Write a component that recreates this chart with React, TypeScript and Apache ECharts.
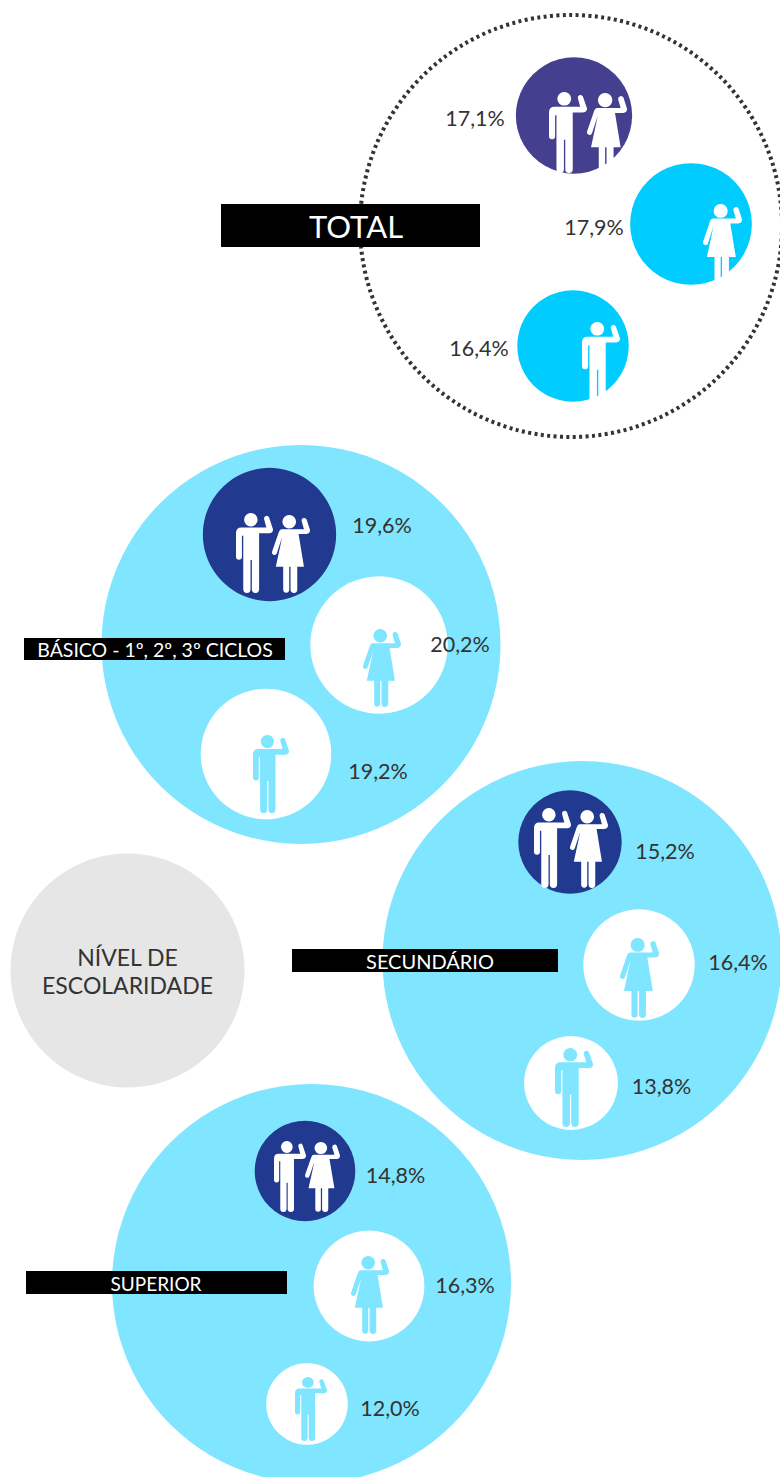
import React, { useEffect, useRef } from "react";
import * as echarts from "echarts";

// ---- Data ----
const groups = ["TOTAL", "BÁSICO - 1º, 2º, 3º CICLOS", "SECUNDÁRIO", "SUPERIOR"];
const audiences = ["Ambos", "Mulheres", "Homens"];
const totalValues = [17.1, 17.9, 16.4];
const basicoValues = [19.6, 20.2, 19.2];
const secundarioValues = [15.2, 16.4, 13.8];
const superiorValues = [14.8, 16.3, 12.0];
const allValues = [...totalValues, ...basicoValues, ...secundarioValues, ...superiorValues];
const centerTitle = "NÍVEL DE\nESCOLARIDADE";

// ---- Layout (positions are placed on hidden pixel axes) ----
const WIDTH = 780;
const HEIGHT = 1477;
const RADIUS_PER_POINT = 3.4;
const circleCentres = [
  [574, 115.5], [691, 224], [573, 346],
  [269.5, 534.5], [379, 645], [266, 754],
  [570, 842], [639, 965], [571, 1083],
  [305, 1171], [369, 1286], [307, 1404],
];
const valueLabelCentres = [
  [475, 118], [594, 227], [479, 348],
  [382, 525], [460, 644], [378, 771],
  [665, 851], [738, 962], [661.5, 1086],
  [395.5, 1175], [465, 1285], [390, 1408],
];
const backdrops = [
  { x: 301, y: 644.5, r: 199.5 },
  { x: 582, y: 960.5, r: 199.5 },
  { x: 311.5, y: 1283.5, r: 199.5 },
];
const banners = [
  { x: 221, y: 204, w: 259, h: 43, tx: 356, ty: 226, size: 31 },
  { x: 24, y: 638, w: 261, h: 22, tx: 155, ty: 649, size: 19.5 },
  { x: 292, y: 949, w: 266, h: 23, tx: 430, ty: 961, size: 20 },
  { x: 26, y: 1271, w: 261, h: 23, tx: 156, ty: 1283, size: 19 },
];
// [kind, left, top, right, bottom, group]
const icons: [string, number, number, number, number, number][] = [
  ["m", 549, 92, 587, 173, 0], ["w", 587, 93, 627, 175, 0],
  ["w", 703, 204, 742, 284, 0],
  ["m", 582, 322, 620, 403, 0],
  ["m", 236, 513, 273, 593, 1], ["w", 272, 515, 310, 593, 1],
  ["w", 363, 629, 401, 707, 2],
  ["m", 253, 735, 289, 813, 2],
  ["m", 534, 808, 571, 888, 1], ["w", 570, 810, 608, 888, 1],
  ["w", 620, 938, 659, 1018, 2],
  ["m", 555, 1048, 593, 1127, 2],
  ["m", 274, 1141, 306, 1212, 1], ["w", 305, 1142, 340, 1212, 1],
  ["w", 351, 1256, 389, 1334, 2],
  ["m", 295, 1377, 327, 1441, 2],
];

const FONT = "Lato, 'Open Sans', sans-serif";
const MAN =
  "path://M45,0A20,20 0 1 1 45,40A20,20 0 1 1 45,0Z" +
  "M16,43H92L85,18A8,8 0 0 1 100,13L112,48Q113,60 100,60H70V227A11,11 0 0 1 48,227V140H44V227A11,11 0 0 1 22,227V68H18V130A9,9 0 0 1 0,130V60Q0,43 16,43Z";
const WOMAN =
  "path://M51,0A20,20 0 1 1 51,40A20,20 0 1 1 51,0Z" +
  "M28,42H74Q80,42 84,42H95L88,18A8,8 0 0 1 103,13L113,44Q114,56 102,56H79L95,153H75V221A10,10 0 0 1 55,221V153H51V221A9,9 0 0 1 33,221V153H11L30,65L14,113A7,7 0 0 1 0,108L20,50Q23,42 28,42Z";

const NAVY = "#21398f";
const PURPLE = "#443f8e";
const CYAN = "#00ccff";
const LIGHT = "#80e5ff";

function circleColor(i: number) {
  if (i === 0) return PURPLE;
  if (i < 3) return CYAN;
  return (i - 3) % 3 === 0 ? NAVY : "#ffffff";
}
function iconColor(g: number) {
  return g === 2 ? LIGHT : "#ffffff";
}

const baseScatter = {
  type: "scatter" as const,
  coordinateSystem: "cartesian2d",
  clip: false,
  silent: true,
  itemStyle: { opacity: 1 },
};

export default function App() {
  const ref = useRef<HTMLDivElement>(null);
  useEffect(() => {
    const chart = echarts.init(ref.current!, undefined, { renderer: "svg" });
    chart.setOption({
      animation: false,
      backgroundColor: "#ffffff",
      grid: { left: 0, right: 0, top: 0, bottom: 0 },
      xAxis: { type: "value", min: 0, max: WIDTH, show: false },
      yAxis: { type: "value", min: 0, max: HEIGHT, inverse: true, show: false },
      series: [
        {
          ...baseScatter,
          name: "Anel",
          z: 1,
          data: [{
            value: [571, 226],
            symbolSize: 422,
            itemStyle: { opacity: 1, color: "transparent", borderColor: "#333333", borderWidth: 4, borderType: [3, 3.4] },
          }],
        },
        {
          ...baseScatter,
          name: "Grupos",
          z: 2,
          data: [
            ...backdrops.map((b) => ({ value: [b.x, b.y], symbolSize: b.r * 2, itemStyle: { opacity: 1, color: LIGHT } })),
            {
              value: [127.5, 970.5],
              symbolSize: 234,
              itemStyle: { opacity: 1, color: "#e6e6e6" },
              label: {
                show: true,
                position: "inside",
                formatter: centerTitle,
                color: "#333333",
                fontFamily: FONT,
                fontSize: 23,
                lineHeight: 28,
              },
            },
          ],
        },
        {
          ...baseScatter,
          name: audiences.join(" / "),
          z: 3,
          data: allValues.map((v, i) => ({
            value: circleCentres[i],
            symbolSize: v * RADIUS_PER_POINT * 2,
            itemStyle: { opacity: 1, color: circleColor(i) },
          })),
        },
        {
          ...baseScatter,
          name: "Ícones",
          z: 4,
          data: icons.map(([k, l, t, r, b, g]) => ({
            value: [(l + r) / 2, (t + b) / 2],
            symbol: k === "m" ? MAN : WOMAN,
            symbolSize: [r - l, b - t],
            itemStyle: { opacity: 1, color: iconColor(g) },
          })),
        },
        {
          ...baseScatter,
          name: "Valores",
          z: 5,
          symbolSize: 1,
          data: allValues.map((v, i) => ({
            value: valueLabelCentres[i],
            itemStyle: { opacity: 1, color: "transparent" },
            label: {
              show: true,
              position: "inside",
              formatter: v.toFixed(1).replace(".", ",") + "%",
              color: "#333333",
              fontFamily: FONT,
              fontSize: 21.5,
            },
          })),
        },
      ],
      graphic: banners.flatMap((b, i) => [
        { type: "rect", z: 100, shape: { x: b.x, y: b.y, width: b.w, height: b.h }, style: { fill: "#000000" } },
        {
          type: "text",
          z: 101,
          x: b.tx,
          y: b.ty,
          style: {
            text: groups[i],
            fill: "#ffffff",
            font: `${b.size}px ${FONT}`,
            align: "center",
            verticalAlign: "middle",
          },
        },
      ]),
    });
    return () => chart.dispose();
  }, []);
  return (
    <div
      ref={ref}
      style={{ position: "absolute", left: 0, top: 0, width: WIDTH, height: HEIGHT, overflow: "hidden" }}
    />
  );
}
